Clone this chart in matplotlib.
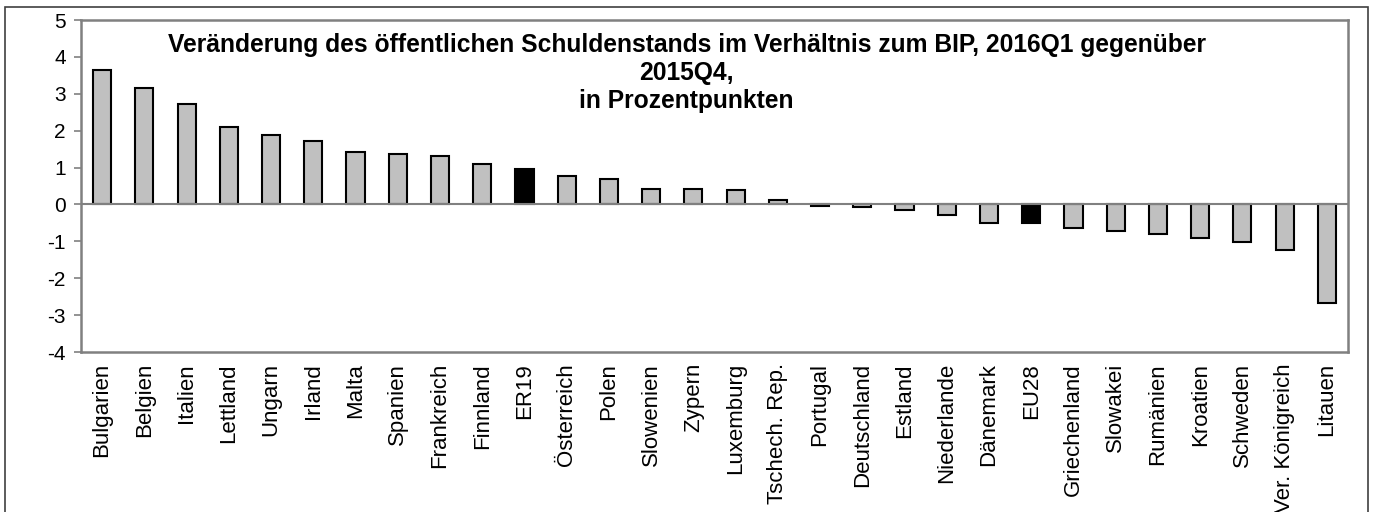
import numpy as np
import matplotlib
matplotlib.use('Agg')
import matplotlib.pyplot as plt
from matplotlib.patches import Rectangle

plt.rcParams['font.family'] = ['Liberation Sans', 'DejaVu Sans']
plt.rcParams['axes.unicode_minus'] = False

#data
countries = ['Bulgarien', 'Belgien', 'Italien', 'Lettland', 'Ungarn', 'Irland', 'Malta',
             'Spanien', 'Frankreich', 'Finnland', 'ER19', 'Österreich', 'Polen', 'Slowenien',
             'Zypern', 'Luxemburg', 'Tschech. Rep.', 'Portugal', 'Deutschland', 'Estland',
             'Niederlande', 'Dänemark', 'EU28', 'Griechenland', 'Slowakei', 'Rumänien',
             'Kroatien', 'Schweden', 'Ver. Königreich', 'Litauen']
values = [3.65, 3.16, 2.73, 2.10, 1.87, 1.73, 1.43, 1.37, 1.31, 1.10, 0.95, 0.77, 0.68,
          0.43, 0.43, 0.38, 0.11, -0.04, -0.06, -0.15, -0.29, -0.49, -0.51, -0.65, -0.72,
          -0.81, -0.90, -1.01, -1.24, -2.68]
aggregates = ['ER19', 'EU28']
title = ('Veränderung des öffentlichen Schuldenstands im Verhältnis zum BIP, 2016Q1 gegenüber\n'
         '2015Q4,\nin Prozentpunkten')

fig = plt.figure(figsize=(13.73, 5.12), dpi=100)
ax = fig.add_axes([81/1373, 1-352/512, (1348-81)/1373, (352-20)/512])

x = np.arange(len(countries))
colors = ['black' if c in aggregates else '#c0c0c0' for c in countries]
ax.bar(x, values, width=0.43, color=colors, edgecolor='black', linewidth=1.5, zorder=2)
ax.axhline(0, color='#808080', linewidth=1.5, zorder=3)

ax.set_xlim(-0.5, len(countries)-0.5)
ax.set_ylim(-4, 5)
ax.set_yticks(range(-4, 6))
ax.set_xticks(x)
ax.set_xticklabels(countries, rotation=90, fontsize=16)
ax.tick_params(axis='x', length=0, pad=8)
ax.tick_params(axis='y', labelsize=15, length=5, color='#808080', width=1.2, pad=6)
for s in ax.spines.values():
    s.set_color('#808080')
    s.set_linewidth(1.8)

ax.text(0.478, 0.96, title, transform=ax.transAxes, ha='center', va='top',
        fontsize=17.7, fontweight='bold', linespacing=1.2)

#outer frame
fig.patches.append(Rectangle((5/1373, -0.05), (1368-5)/1373, 1.05-7/512,
                             transform=fig.transFigure, fill=False,
                             edgecolor='#404040', linewidth=1.2))

plt.savefig('out.png', dpi=100)
